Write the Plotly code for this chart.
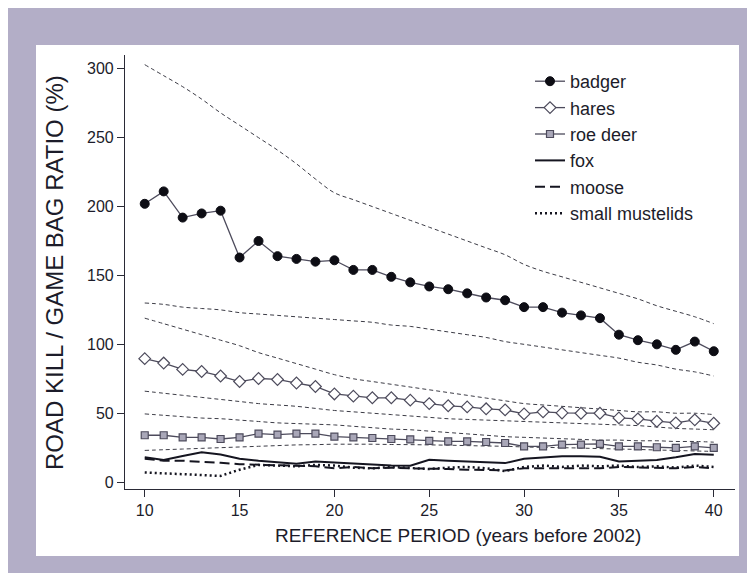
import plotly.graph_objects as go

years = list(range(10, 41))

badger = [202, 211, 192, 195, 197, 163, 175, 164, 162, 160, 161, 154, 154, 149, 145, 142, 140, 137, 134, 132, 127, 127, 123, 121, 119, 107, 103, 100, 96, 102, 95]
badger_hi = [303, 295, 287, 278, 268, 259, 250, 241, 231, 220, 210, 205, 200, 195, 190, 185, 180, 175, 170, 165, 158, 153, 149, 145, 141, 137, 133, 128, 124, 120, 115]
badger_lo = [130, 129, 127, 126, 125, 123, 122, 121, 120, 119, 118, 117, 116, 114, 113, 111, 109, 107, 105, 102, 100, 98, 96, 94, 92, 90, 87, 85, 82, 80, 77]

hares = [89.6, 86.4, 81.8, 80.3, 77, 73, 75.2, 74.5, 71.9, 69.4, 64, 62.4, 61.2, 61.2, 59.5, 57, 55.4, 54.6, 53.2, 52.4, 49.5, 51, 50.2, 50, 50, 46.6, 45.9, 44.2, 43, 45.2, 42.7]
hares_hi = [119, 115, 111, 107, 103, 99, 94, 90, 86, 82, 78, 75, 73, 71, 69, 67, 65, 63, 61, 59, 57, 56, 55, 54, 53, 52, 51, 51, 50, 50, 49]
hares_lo = [66, 64.5, 63, 61.5, 60, 58.5, 57, 56, 55, 53.5, 52, 51, 50, 49, 48, 47, 46, 45.5, 45, 44.5, 44, 43.5, 43, 42.5, 42, 41.5, 41, 40, 39, 38.5, 38]

roe = [34, 34, 32.5, 32.5, 31.3, 32.5, 35.2, 34.5, 35.2, 35.2, 33, 32.5, 32, 31.3, 31, 30, 29.6, 29.6, 29.1, 28.4, 26, 26, 27.2, 27.2, 27.7, 26, 26, 25.3, 24.8, 26, 24.8]
roe_hi = [49.5, 48.5, 47.5, 46.5, 46, 45, 44, 43, 42.5, 42, 41.5, 40.5, 39.5, 38.5, 38, 37, 36, 35, 34, 33, 32.5, 32, 31.5, 31, 30.5, 30.5, 30, 30, 29.5, 29.5, 29]
roe_lo = [23, 23.5, 24, 24.5, 25, 25.5, 26, 26.5, 27, 27.2, 27.5, 27.5, 27.5, 27.3, 27.2, 27, 26.8, 26.5, 26.2, 26, 25.5, 25.2, 25, 24.7, 24.3, 24, 23.7, 23.3, 23, 22.6, 22.3]

fox = [18, 16, 19, 21.6, 20, 17, 15.5, 14.6, 13.3, 15, 14.3, 13.1, 12.5, 12, 11.9, 16.2, 15.5, 15, 14.5, 13.8, 17, 18, 18.7, 18.7, 18.4, 15, 15.5, 16, 18, 20.4, 19.9]
moose = [17, 15.5, 15.5, 15, 14, 13, 12.5, 12, 12, 11.5, 10, 11, 10, 10.5, 10, 10, 9.5, 9, 9, 8.5, 10, 10, 9.5, 10, 10, 11, 10.5, 10, 10, 11, 10]
mustelids = [7, 6.5, 6, 5.3, 4.5, 9, 12.5, 12, 11.5, 12.5, 12, 10.5, 10, 11, 10, 9.5, 10.5, 11, 10, 8, 11, 12, 11, 12, 11.5, 12, 11, 11.5, 10.5, 12, 11]

x_ticks = [10, 15, 20, 25, 30, 35, 40]
y_ticks = [0, 50, 100, 150, 200, 250, 300]

LINE = "#4d4b5c"
CI = "#3c3c46"
TXT = "#1c1c2a"
FONT = "Liberation Sans, Arial, sans-serif"

fig = go.Figure()

# confidence envelopes (thin dashed)
for arr in [badger_hi, badger_lo, hares_hi, hares_lo, roe_hi, roe_lo]:
    fig.add_trace(go.Scatter(x=years, y=arr, mode="lines", showlegend=False,
                             line=dict(color=CI, width=1, dash="4px,3px", shape="spline"),
                             hoverinfo="skip"))

fig.add_trace(go.Scatter(x=years, y=fox, mode="lines", name="fox", legendrank=4,
                         line=dict(color="#151520", width=2)))
fig.add_trace(go.Scatter(x=years, y=moose, mode="lines", name="moose", legendrank=5,
                         line=dict(color="#151520", width=2, dash="10px,5px")))
fig.add_trace(go.Scatter(x=years, y=mustelids, mode="lines", name="small mustelids", legendrank=6,
                         line=dict(color="#151520", width=2.5, dash="2px,3px")))

fig.add_trace(go.Scatter(x=years, y=roe, mode="lines+markers", name="roe deer", legendrank=3,
                         line=dict(color=LINE, width=1.3),
                         marker=dict(symbol="square", size=7, color="#a9a7b8",
                                     line=dict(color="#4d4b5c", width=1.2))))
fig.add_trace(go.Scatter(x=years, y=hares, mode="lines+markers", name="hares", legendrank=2,
                         line=dict(color=LINE, width=1.3),
                         marker=dict(symbol="diamond", size=9, color="white",
                                     line=dict(color="#4d4b5c", width=1.2))))
fig.add_trace(go.Scatter(x=years, y=badger, mode="lines+markers", name="badger", legendrank=1,
                         line=dict(color=LINE, width=1.3),
                         marker=dict(symbol="circle", size=9, color="#0d0d14",
                                     line=dict(color="#0d0d14", width=1))))

L, R, T, B = 117, 28, 47, 92
PW, PH = 755 - L - R, 573 - T - B


def px_x(px):
    return (px - L) / PW


def px_y(py):
    return (573 - B - py) / PH


fig.add_shape(type="rect", xref="paper", yref="paper", layer="below",
              x0=px_x(28), x1=px_x(731), y0=px_y(548), y1=px_y(37),
              fillcolor="white", line=dict(width=0))

fig.add_annotation(text="REFERENCE PERIOD (years before 2002)", xref="paper", yref="paper",
                   x=px_x(450), y=px_y(527), xanchor="center", yanchor="middle",
                   showarrow=False, font=dict(size=19, family=FONT, color=TXT))
fig.add_annotation(text="ROAD KILL / GAME BAG RATIO (%)", xref="paper", yref="paper",
                   x=px_x(46), y=px_y(265), xanchor="center", yanchor="middle",
                   textangle=-90, showarrow=False, font=dict(size=24, family=FONT, color=TXT))

fig.update_layout(
    width=755, height=573,
    margin=dict(l=L, r=R, t=T, b=B),
    paper_bgcolor="#b3aec7",
    plot_bgcolor="rgba(0,0,0,0)",
    font=dict(family=FONT, color=TXT, size=16),
    showlegend=True,
    legend=dict(x=px_x(522), y=px_y(55), xanchor="left", yanchor="top",
                bgcolor="rgba(0,0,0,0)", font=dict(size=18, family=FONT, color=TXT),
                tracegroupgap=0, itemwidth=30),
    xaxis=dict(range=[8.96, 41.12], tickvals=x_ticks, ticks="outside", ticklen=7,
               tickcolor="#2a2a36", showline=True, linecolor="#2a2a36", linewidth=1.2,
               showgrid=False, zeroline=False, tickfont=dict(size=16)),
    yaxis=dict(range=[-5, 310], tickvals=y_ticks, ticks="outside", ticklen=7,
               tickcolor="#2a2a36", showline=True, linecolor="#2a2a36", linewidth=1.2,
               showgrid=False, zeroline=False, tickfont=dict(size=16)),
)

fig.write_html("out.html")
